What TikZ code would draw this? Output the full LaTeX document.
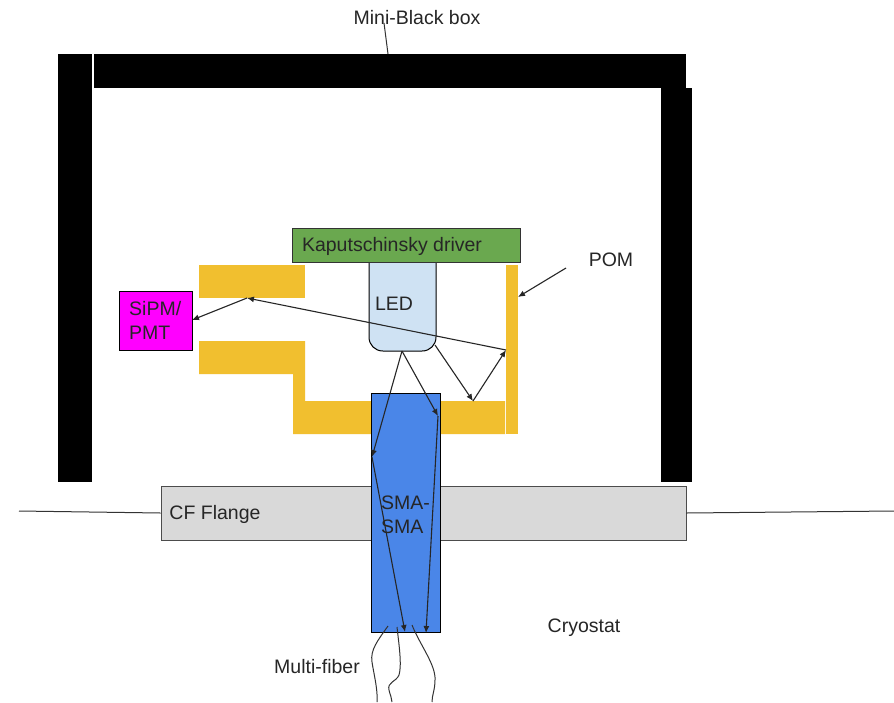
\documentclass[tikz,border=0pt]{standalone}
\usepackage{fontspec}
\setmainfont{Liberation Sans}
\usetikzlibrary{positioning, arrows.meta}
\definecolor{PomGold}{HTML}{F1BF2F}
\definecolor{DriverGreen}{HTML}{6AA84F}
\definecolor{LedBlue}{HTML}{CFE2F3}
\definecolor{SmaBlue}{HTML}{4A86E8}
\definecolor{SipmPink}{HTML}{FF00FF}
\definecolor{FlangeGray}{HTML}{D9D9D9}
\definecolor{WireGray}{HTML}{333333}
\tikzset{
  label text/.style={font=\fontsize{19.5}{24.5}\selectfont, text=black!85, inner sep=0pt},
  ray/.style={-{Latex[length=7pt,width=6pt]}, line width=1.1pt, black!85},
  wire/.style={line width=1pt, WireGray},
}
\begin{document}
\begin{tikzpicture}[x=1pt, y=-1pt]
      \useasboundingbox (0,0) rectangle (894,702);
      \fill[white] (0,0) rectangle (894,702);
      % Black box
      \fill[black] (58,54) rectangle (92,482);
      \fill[black] (94,54) rectangle (686,88);
      \fill[black] (661,88) rectangle (692,482);
      % POM
      \fill[PomGold] (199,265) rectangle (305,298);
      \fill[PomGold] (199,341) -- (305,341) -- (305,401) -- (505,401) -- (505,434) -- (293,434) -- (293,374) -- (199,374) -- cycle;
      \fill[PomGold] (506,265) rectangle (518,434);
      % Flange and wires
      \node[draw=black!70, fill=FlangeGray, line width=0.7pt, minimum width=525pt, minimum height=54pt, inner sep=0pt] (flange) at (423.5,513) {};
      \coordinate (wireL) at (19,511);
      \coordinate (wireR) at (894,511);
      \draw[wire] (wireL) -- (flange.west);
      \draw[wire] (flange.east) -- (wireR);
      % SMA
      \node[draw=black, fill=SmaBlue, line width=1pt, minimum width=69pt, minimum height=239pt, inner sep=0pt] (sma) at (405.5,512.5) {};
      % Driver and LED
      \draw[draw=black, fill=LedBlue, line width=1pt] (369,262) -- (369,337) .. controls (369,345) and (375,351) .. (383,351) -- (422,351) .. controls (430,351) and (436,345) .. (436,337) -- (436,262) -- cycle;
      \node[draw=black!80, fill=DriverGreen, line width=0.8pt, minimum width=228pt, minimum height=34pt, inner sep=0pt] (driver) at (406,245) {};
      \node[draw=black, fill=SipmPink, line width=1pt, minimum width=73pt, minimum height=59pt, inner sep=0pt] (sipm) at (155.5,320.5) {};
      % Ray points
      \coordinate (ledA) at (402,351);
      \coordinate (ledB) at (435,345);
      \coordinate (wallA) at (372,457);
      \coordinate (wallB) at (438,416);
      \coordinate (exitA) at (405,632);
      \coordinate (exitB) at (426,633);
      \coordinate (floor) at (473,401);
      \coordinate (pomR) at (506,350);
      \coordinate (pomL) at (247,298);
      \coordinate (sipmIn) at (192,320);
      % Rays
      \draw[ray] (ledA) -- (wallA);
      \draw[ray] (wallA) -- (exitA);
      \draw[ray] (ledA) -- (wallB);
      \draw[ray] (wallB) -- (exitB);
      \draw[ray] (ledB) -- (floor);
      \draw[ray] (floor) -- (pomR);
      \draw[ray] (pomR) -- (pomL);
      \draw[ray] (pomL) -- (sipmIn);
      % Fibers
      \draw[wire] (388,626) .. controls (378,640) and (370,650) .. (372,662) .. controls (374,675) and (378,690) .. (377,702);
      \draw[wire] (397,627) .. controls (399,645) and (402,665) .. (399,675) .. controls (396,682) and (387,682) .. (389,690) .. controls (390,695) and (392,698) .. (392,702);
      \draw[wire] (412,625) .. controls (420,645) and (436,665) .. (435,680) .. controls (435,690) and (432,695) .. (432,702);
      % Labels
      \node[label text] (mini) at (417,18) {Mini-Black box};
      \coordinate (miniIn) at (388,54);
      \draw[wire] (384,23) -- (miniIn);
      \node[label text] (kap) at (392,246) {Kaputschinsky driver};
      \node[label text] (led) at (394,304) {LED};
      \node[label text, align=left, anchor=west] (sipmText) at (129,320.5) {SiPM/\\PMT};
      \node[label text] (pom) at (611,260) {POM};
      \coordinate (pomIn) at (518,297);
      \draw[ray] (566,268) -- (pomIn);
      \node[label text] (cf) at (215,514) {CF Flange};
      \node[label text, align=left, anchor=west] (smaText) at (381,515) {SMA-\\SMA};
      \node[label text] (cryo) at (584,628) {Cryostat};
      \node[label text] (multi) at (317,667) {Multi-fiber};
    \end{tikzpicture}
\end{document}
